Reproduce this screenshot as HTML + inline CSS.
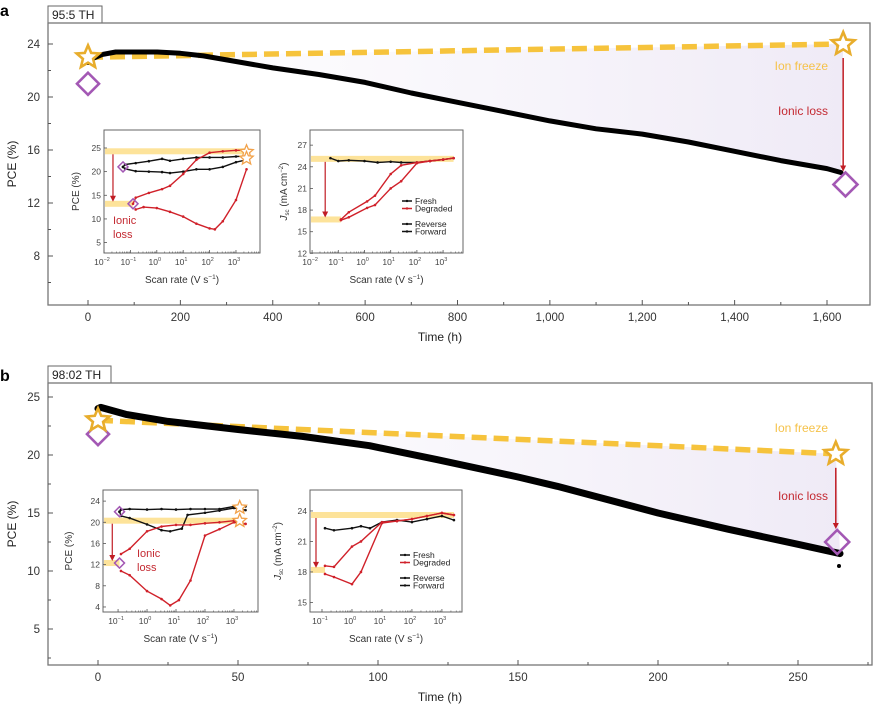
<!DOCTYPE html>
<html><head><meta charset="utf-8">
<style>
html,body{margin:0;padding:0;background:#fff;}
svg{display:block;font-family:"Liberation Sans",sans-serif;}
</style></head>
<body>
<svg id="fig" width="873" height="706" viewBox="0 0 873 706" xmlns="http://www.w3.org/2000/svg">
<defs>
<linearGradient id="shade" x1="0" x2="1" y1="0" y2="0">
<stop offset="0" stop-color="#f1edf7" stop-opacity="0"/>
<stop offset="1" stop-color="#ebe5f4" stop-opacity="0.8"/>
</linearGradient>
</defs>
</svg>
<script>
// ---------- Panel a main data ----------
const aHours = [0,10,30,60,100,150,200,250,300,400,500,600,700,800,900,1000,1100,1200,1300,1400,1500,1600,1630];
const aPCE   = [22.6,22.9,23.2,23.4,23.4,23.4,23.3,23.1,22.8,22.2,21.7,21.1,20.3,19.6,18.9,18.2,17.6,17.2,16.6,15.9,15.2,14.6,14.3];
const aFreezeH = [0,1635];
const aFreezeV = [23.0,24.0];
const aDiamondH = [0,1640];
const aDiamondV = [21.0,13.4];
const aXTicks = [0,200,400,600,800,1000,1200,1400,1600];
const aXTickLabels = ["0","200","400","600","800","1,000","1,200","1,400","1,600"];
const aYTicks = [8,12,16,20,24];
// ---------- Panel b main data ----------
const bHours = [0,1,10,25,50,73,97,121,150,164,200,225,250,265];
const bPCE   = [24.0,24.1,23.5,22.9,22.2,21.6,20.8,19.6,18.1,17.3,15.0,13.6,12.3,11.5];
const bFreezeH = [0,263.5];
const bFreezeV = [23.0,20.1];
const bDiamondH = [0,264];
const bDiamondV = [21.8,12.5];
const bXTicks = [0,50,100,150,200,250];
const bXTickLabels = ["0","50","100","150","200","250"];
const bYTicks = [5,10,15,20,25];
// ---------- Inset data (log10 scan rate, value) ----------
const a1FreshRevX = [-1.28,-1.2,-0.8,-0.3,0.2,0.5,1,1.5,2,2.5,3,3.4];
const a1FreshRevY = [21,21.5,21.8,22.2,22.7,22.3,22.7,23,23,23,23.2,23.3];
const a1FreshFwdX = [-1.28,-1.2,-0.8,-0.3,0.2,0.5,1,1.5,2,2.5,3,3.4];
const a1FreshFwdY = [21,20.6,20.1,20,19.9,19.7,20,20.5,20.5,21,22,22.5];
const a1DegRevX = [-0.9,-0.8,-0.3,0.2,0.5,1,1.5,2,2.5,3,3.4];
const a1DegRevY = [13.2,14.5,15.5,16.3,17,19.5,22.5,24,24.3,24.5,24.5];
const a1DegFwdX = [-0.8,-0.5,0,0.5,1,1.5,2,2.2,2.5,3,3.4];
const a1DegFwdY = [12,12.5,12.3,11.5,10.5,9,8,7.8,9.5,14,20.5];
const a2FreshX = [-1.3,-1,-0.6,0,0.5,1,1.4,2,2.5,3,3.4];
const a2FreshY = [25.2,24.8,24.9,24.8,24.6,24.7,24.6,24.6,24.8,25,25.2];
const a2DegRevX = [-0.9,-0.6,0.1,0.4,1,1.4,2,2.5,3,3.4];
const a2DegRevY = [16.7,17.7,19.2,20,23,24.2,24.6,24.8,25,25.2];
const a2DegFwdX = [-0.9,-0.6,0.1,0.4,1,1.4,2,2.5,3,3.4];
const a2DegFwdY = [16.6,17,18.3,18.7,21,22,24.5,24.8,25,25.2];
const b1FreshRevX = [-0.95,-0.9,-0.6,0,0.5,1,1.5,2,2.5,3,3.4];
const b1FreshRevY = [22,22.4,22.5,22.4,22.5,22.4,22.5,22.5,22.5,23,23];
const b1FreshFwdX = [-0.95,-0.9,-0.6,0,0.5,0.8,1.2,1.4,2,2.5,3,3.4];
const b1FreshFwdY = [22,21.2,20.8,19.6,18.5,18.3,18.8,21.4,21.8,22.2,22.7,22.3];
const b1DegRevX = [-0.9,-0.6,0,0.5,1,1.5,2,2.5,3,3.4];
const b1DegRevY = [14,15,18.3,19.2,19.5,19.5,19.8,20,20.3,19.7];
const b1DegFwdX = [-0.9,-0.6,0,0.5,0.8,1.1,1.5,2,2.5,3,3.4];
const b1DegFwdY = [10.8,10,7,5.5,4.3,5.3,9,17.5,18.7,20,19.7];
const b2FreshX = [-0.9,-0.6,0,0.3,0.6,1,1.5,2,2.5,3,3.4];
const b2FreshY = [22.3,22.1,22.3,22.5,22.3,22.9,23.1,22.9,23.2,23.5,23.1];
const b2DegRevX = [-0.9,-0.6,0,0.3,1,1.5,2,2.5,3,3.4];
const b2DegRevY = [18.6,18.5,20.5,21,22.9,23,23.2,23.5,23.8,23.6];
const b2DegFwdX = [-0.9,-0.6,0,0.3,1,1.5,2,2.5,3,3.4];
const b2DegFwdY = [17.8,17.5,16.8,18,22.8,23,23.2,23.5,23.8,23.6];

const NS = "http://www.w3.org/2000/svg";
const svg = document.getElementById('fig');
function el(tag, attrs, parent, name){
  const e = document.createElementNS(NS, tag);
  for (const k in attrs) e.setAttribute(k, attrs[k]);
  
  
  (parent||svg).appendChild(e);
  return e;
}
function txt(x,y,s,size,parent,name,anchor,fill,extra){
  const t = el('text', Object.assign({x:x,y:y,'font-size':size,'text-anchor':anchor||'middle',fill:fill||'#333'}, extra||{}), parent, name);
  t.textContent = s;
  return t;
}
function linScale(d0,d1,p0,p1){ return v => p0 + (v-d0)*(p1-p0)/(d1-d0); }
function star(cx,cy,r,stroke,sw,parent,name){
  let pts=[];
  for(let i=0;i<10;i++){const a=-Math.PI/2+i*Math.PI/5;const rr=i%2?r*0.45:r;pts.push((cx+rr*Math.cos(a)).toFixed(1)+','+(cy+rr*Math.sin(a)).toFixed(1));}
  return el('polygon',{points:pts.join(' '),fill:'#fff',stroke:stroke,'stroke-width':sw,'stroke-linejoin':'miter'},parent,name);
}
function diamond(cx,cy,r,sw,parent,name){
  return el('polygon',{points:`${cx},${cy-r} ${cx+r},${cy} ${cx},${cy+r} ${cx-r},${cy}`,fill:'none',stroke:'#a358b4','stroke-width':sw},parent,name);
}
function arrow(x,y1,y2,parent,name,sw){
  const g = el('g',{},parent,name);
  el('line',{x1:x,y1:y1,x2:x,y2:y2-5,stroke:'#c01c24','stroke-width':sw||1.5},g,name+'-shaft');
  el('polygon',{points:`${x-3},${y2-6} ${x+3},${y2-6} ${x},${y2}`,fill:'#c01c24'},g,name+'-head');
}

function mainPanel(cfg){
  const g = el('g',{},svg,cfg.id+'-panel');
  const X = linScale(cfg.x0d,cfg.x1d,cfg.x0p,cfg.x1p);
  const Y = linScale(cfg.y0d,cfg.y1d,cfg.y0p,cfg.y1p);
  txt(cfg.letterX,cfg.letterY,cfg.letter,16,g,cfg.id+'-panel-letter','start','#000',{'font-weight':'bold'});
  el('rect',{x:cfg.L,y:cfg.T-17,width:cfg.boxW,height:17,fill:'#fff',stroke:'#666','stroke-width':1},g,cfg.id+'-sample-box');
  txt(cfg.L+4,cfg.T-4,cfg.sample,12,g,cfg.id+'-sample-label','start','#222');
  el('rect',{x:cfg.L,y:cfg.T,width:cfg.R-cfg.L,height:cfg.B-cfg.T,fill:'none',stroke:'#777','stroke-width':1.3},g,cfg.id+'-plot-frame');
  const fx0=X(cfg.fh[0]), fx1=X(cfg.fh[1]);
  let poly=[fx0+','+Y(cfg.fv[0]), fx1+','+Y(cfg.fv[1])];
  for(let i=cfg.hours.length-1;i>=0;i--) poly.push(X(cfg.hours[i]).toFixed(1)+','+Y(cfg.vals[i]).toFixed(1));
  el('polygon',{points:poly.join(' '),fill:'url(#shade)'},g,cfg.id+'-ionic-loss-shading');
  cfg.xt.forEach((t,i)=>{
    el('line',{x1:X(t),x2:X(t),y1:cfg.B,y2:cfg.B-5,stroke:'#555','stroke-width':1},g,cfg.id+'-x-tick');
    txt(X(t),cfg.B+16,cfg.xtl[i],11.5,g,cfg.id+'-x-tick-label');
    if(i<cfg.xt.length-1){const m=(t+cfg.xt[i+1])/2;el('line',{x1:X(m),x2:X(m),y1:cfg.B,y2:cfg.B-3,stroke:'#555','stroke-width':1},g,cfg.id+'-x-minor-tick');}
  });
  const lastM = cfg.xt[cfg.xt.length-1]+(cfg.xt[1]-cfg.xt[0])/2;
  if(X(lastM)<cfg.R) el('line',{x1:X(lastM),x2:X(lastM),y1:cfg.B,y2:cfg.B-3,stroke:'#555','stroke-width':1},g,cfg.id+'-x-minor-tick');
  cfg.yt.forEach((t,i)=>{
    el('line',{x1:cfg.L,x2:cfg.L+5,y1:Y(t),y2:Y(t),stroke:'#555','stroke-width':1},g,cfg.id+'-y-tick');
    txt(cfg.L-8,Y(t)+4,String(t),11.5,g,cfg.id+'-y-tick-label','end');
    const step=cfg.yt[1]-cfg.yt[0];
    const m=t-step/2; if(Y(m)<cfg.B) el('line',{x1:cfg.L,x2:cfg.L+3,y1:Y(m),y2:Y(m),stroke:'#555','stroke-width':1},g,cfg.id+'-y-minor-tick');
  });
  txt(16,(cfg.T+cfg.B)/2,'PCE (%)',12,g,cfg.id+'-y-axis-title','middle','#222',{transform:`rotate(-90 16 ${(cfg.T+cfg.B)/2})`});
  txt(440,cfg.B+36,'Time (h)',12,g,cfg.id+'-x-axis-title','middle','#222');
  el('line',{x1:fx0,y1:Y(cfg.fv[0]),x2:fx1,y2:Y(cfg.fv[1]),stroke:'#f6c33c','stroke-width':5.5,'stroke-dasharray':'15 7'},g,cfg.id+'-ion-freeze-line');
  el('polyline',{points:cfg.hours.map((h,i)=>X(h).toFixed(1)+','+Y(cfg.vals[i]).toFixed(1)).join(' '),fill:'none',stroke:'#000','stroke-width':cfg.lw,'stroke-linejoin':'round','stroke-linecap':'round'},g,cfg.id+'-pce-trace');
  diamond(X(cfg.dh[0]),Y(cfg.dv[0]),11,2.6,g,cfg.id+'-start-diamond');
  star(X(cfg.fh[0]),Y(cfg.fv[0]),12,'#e8ad2c',2.6,g,cfg.id+'-start-star');
  arrow(X(cfg.fh[1]),Y(cfg.fv[1])+14,Y(cfg.dv[1])-13,g,cfg.id+'-ionic-loss-arrow');
  star(X(cfg.fh[1]),Y(cfg.fv[1]),12,'#e8ad2c',2.6,g,cfg.id+'-end-star');
  diamond(X(cfg.dh[1]),Y(cfg.dv[1]),12,2.6,g,cfg.id+'-end-diamond');
  txt(828,cfg.freezeTY,'Ion freeze',12,g,cfg.id+'-ion-freeze-label','end','#f5c24a');
  txt(828,cfg.lossTY,'Ionic loss',12,g,cfg.id+'-ionic-loss-label','end','#c42a32');
  return g;
}

mainPanel({id:'a',letter:'a',letterX:0,letterY:16,sample:'95:5 TH',boxW:54,L:48,R:870,T:23,B:305,
  x0d:0,x1d:1600,x0p:88,x1p:827,y0d:24,y1d:20,y0p:44,y1p:97,
  xt:aXTicks,xtl:aXTickLabels,yt:aYTicks,hours:aHours,vals:aPCE,fh:aFreezeH,fv:aFreezeV,dh:aDiamondH,dv:aDiamondV,lw:5,freezeTY:70,lossTY:115});
mainPanel({id:'b',letter:'b',letterX:0,letterY:381,sample:'98:02 TH',boxW:63,L:48,R:872,T:383,B:665,
  x0d:0,x1d:250,x0p:98,x1p:798,y0d:25,y1d:20,y0p:397,y1p:455,
  xt:bXTicks,xtl:bXTickLabels,yt:bYTicks,hours:bHours,vals:bPCE,fh:bFreezeH,fv:bFreezeV,dh:bDiamondH,dv:bDiamondV,lw:7,freezeTY:432,lossTY:500});
el('circle',{cx:839,cy:566,r:2,fill:'#000'},svg,'b-last-point');

function inset(c){
  const g = el('g',{},svg,c.id+'-inset');
  const X = linScale(c.xmin,c.xmax,c.L,c.R);
  const Y = linScale(c.ymin,c.ymax,c.B,c.T);
  el('rect',{x:c.L,y:c.T,width:c.R-c.L,height:c.B-c.T,fill:'#fff',stroke:'#666','stroke-width':1},g,c.id+'-inset-frame');
  c.bars.forEach((b,i)=>{
    el('rect',{x:c.L+1,y:Y(b.v)-3,width:X(b.x)-c.L-1,height:6,fill:'#fde39a'},g,c.id+'-highlight-bar');
  });
  for(let d=Math.ceil(c.xmin);d<=c.xmax;d++){
    el('line',{x1:X(d),x2:X(d),y1:c.B,y2:c.B-3,stroke:'#555','stroke-width':0.8},g,c.id+'-x-tick');
    const t=txt(X(d)-2,c.B+12,'10',8.5,g,c.id+'-x-tick-label','middle','#444');
    const s=document.createElementNS(NS,'tspan');s.setAttribute('dy','-4');s.setAttribute('font-size','5.5');s.textContent=String(d).replace('-','\u2212');t.appendChild(s);
    for(let k=2;k<10;k++){const v=d+Math.log10(k);if(v<c.xmax) el('line',{x1:X(v),x2:X(v),y1:c.B,y2:c.B-1.5,stroke:'#555','stroke-width':0.6},g,c.id+'-x-minor-tick');}
  }
  c.yt.forEach(t=>{
    el('line',{x1:c.L,x2:c.L+3,y1:Y(t),y2:Y(t),stroke:'#555','stroke-width':0.8},g,c.id+'-y-tick');
    txt(c.L-3,Y(t)+3,String(t),8.5,g,c.id+'-y-tick-label','end','#444');
  });
  const sr=txt((c.L+c.R)/2,c.B+30,'Scan rate (V s',10,g,c.id+'-x-axis-title','middle','#333');
  const sp=document.createElementNS(NS,'tspan');sp.setAttribute('dy','-4');sp.setAttribute('font-size','6.5');sp.textContent='\u22121';sr.appendChild(sp);
  const sp2=document.createElementNS(NS,'tspan');sp2.setAttribute('dy','4');sp2.textContent=')';sr.appendChild(sp2);
  const ty=(c.T+c.B)/2;
  if(c.ylabel==='pce'){
    txt(c.ytx,ty,'PCE (%)',10,g,c.id+'-y-axis-title','middle','#333',{transform:`rotate(-90 ${c.ytx} ${ty})`});
  } else {
    const t=txt(c.ytx,ty,'',10,g,c.id+'-y-axis-title','middle','#333',{transform:`rotate(-90 ${c.ytx} ${ty})`});
    const a=document.createElementNS(NS,'tspan');a.setAttribute('font-style','italic');a.textContent='J';t.appendChild(a);
    const b=document.createElementNS(NS,'tspan');b.setAttribute('font-size','6');b.setAttribute('dy','2');b.textContent='sc';t.appendChild(b);
    const d=document.createElementNS(NS,'tspan');d.setAttribute('dy','-2');d.textContent=' (mA cm';t.appendChild(d);
    const e=document.createElementNS(NS,'tspan');e.setAttribute('font-size','6');e.setAttribute('dy','-4');e.textContent='\u22122';t.appendChild(e);
    const f=document.createElementNS(NS,'tspan');f.setAttribute('dy','4');f.textContent=')';t.appendChild(f);
  }
  c.series.forEach(s=>{
    const col=s.red?'#d0212a':'#111';
    el('polyline',{points:s.x.map((v,i)=>X(v).toFixed(1)+','+Y(s.y[i]).toFixed(1)).join(' '),fill:'none',stroke:col,'stroke-width':1.4},g,c.id+'-'+s.name+'-line');
    s.x.forEach((v,i)=>{el('circle',{cx:X(v),cy:Y(s.y[i]),r:1.3,fill:col},g,c.id+'-'+s.name+'-point');});
  });
  arrow(X(c.arrowX),Y(c.bars[0].v)+3,Y(c.bars[1].v)-2,g,c.id+'-ionic-loss-arrow',1.2);
  (c.diamonds||[]).forEach(d=>diamond(X(d[0]),Y(d[1]),5,1.5,g,c.id+'-diamond-marker'));
  (c.stars||[]).forEach(s=>star(X(s[0]),Y(s[1]),7,'#f2a24a',1.3,g,c.id+'-star-marker'));
  if(c.lossText){
    txt(c.lossText[0],c.lossText[1],'Ionic',11,g,c.id+'-ionic-label','start','#c42a32');
    txt(c.lossText[0],c.lossText[1]+14,'loss',11,g,c.id+'-loss-label','start','#c42a32');
  }
  if(c.legend){
    const [lx,ly]=c.legend;
    const items=[['Fresh','#111',0],['Degraded','#d0212a',7.5],['Reverse','#111',23],['Forward','#111',30.5]];
    items.forEach(it=>{
      el('line',{x1:lx,x2:lx+10,y1:ly+it[2],y2:ly+it[2],stroke:it[1],'stroke-width':1.5},g,c.id+'-legend-line');
      el('circle',{cx:lx+5,cy:ly+it[2],r:1.2,fill:it[1]},g,c.id+'-legend-dot');
      txt(lx+13,ly+it[2]+3,it[0],8.5,g,c.id+'-legend-entry','start','#222');
    });
  }
}

inset({id:'a1',L:104,R:260,T:130,B:253,xmin:-2,xmax:3.91,ymin:2.8,ymax:28.8,yt:[5,10,15,20,25],ylabel:'pce',ytx:79,
  bars:[{v:24.3,x:3.4},{v:13.2,x:-0.9}],arrowX:-1.66,diamonds:[[-1.28,21],[-0.9,13.2]],stars:[[3.4,24.2],[3.4,22.8]],lossText:[113,224],
  series:[{name:'fresh-reverse',x:a1FreshRevX,y:a1FreshRevY},{name:'fresh-forward',x:a1FreshFwdX,y:a1FreshFwdY},
          {name:'degraded-reverse',red:1,x:a1DegRevX,y:a1DegRevY},{name:'degraded-forward',red:1,x:a1DegFwdX,y:a1DegFwdY}]});
inset({id:'a2',L:310,R:463,T:130,B:253,xmin:-2.08,xmax:3.76,ymin:12.05,ymax:29.1,yt:[12,15,18,21,24,27],ylabel:'jsc',ytx:287,
  bars:[{v:25.1,x:3.4},{v:16.7,x:-0.9}],arrowX:-1.5,legend:[402,201],
  series:[{name:'fresh',x:a2FreshX,y:a2FreshY},{name:'degraded-reverse',red:1,x:a2DegRevX,y:a2DegRevY},{name:'degraded-forward',red:1,x:a2DegFwdX,y:a2DegFwdY}]});
inset({id:'b1',L:103,R:258,T:490,B:612,xmin:-1.52,xmax:3.83,ymin:3.05,ymax:26.1,yt:[4,8,12,16,20,24],ylabel:'pce',ytx:72,
  bars:[{v:20.3,x:3.2},{v:12.3,x:-0.95}],arrowX:-1.2,diamonds:[[-0.95,22],[-0.95,12.3]],stars:[[3.2,22.8],[3.2,20.3]],lossText:[137,557],
  series:[{name:'fresh-reverse',x:b1FreshRevX,y:b1FreshRevY},{name:'fresh-forward',x:b1FreshFwdX,y:b1FreshFwdY},
          {name:'degraded-reverse',red:1,x:b1DegRevX,y:b1DegRevY},{name:'degraded-forward',red:1,x:b1DegFwdX,y:b1DegFwdY}]});
inset({id:'b2',L:310,R:462,T:490,B:612,xmin:-1.4,xmax:3.67,ymin:14.06,ymax:26.06,yt:[15,18,21,24],ylabel:'jsc',ytx:281,
  bars:[{v:23.6,x:3.4},{v:18.2,x:-0.9}],arrowX:-1.2,legend:[400,555],
  series:[{name:'fresh',x:b2FreshX,y:b2FreshY},{name:'degraded-reverse',red:1,x:b2DegRevX,y:b2DegRevY},{name:'degraded-forward',red:1,x:b2DegFwdX,y:b2DegFwdY}]});
</script>
</body></html>
